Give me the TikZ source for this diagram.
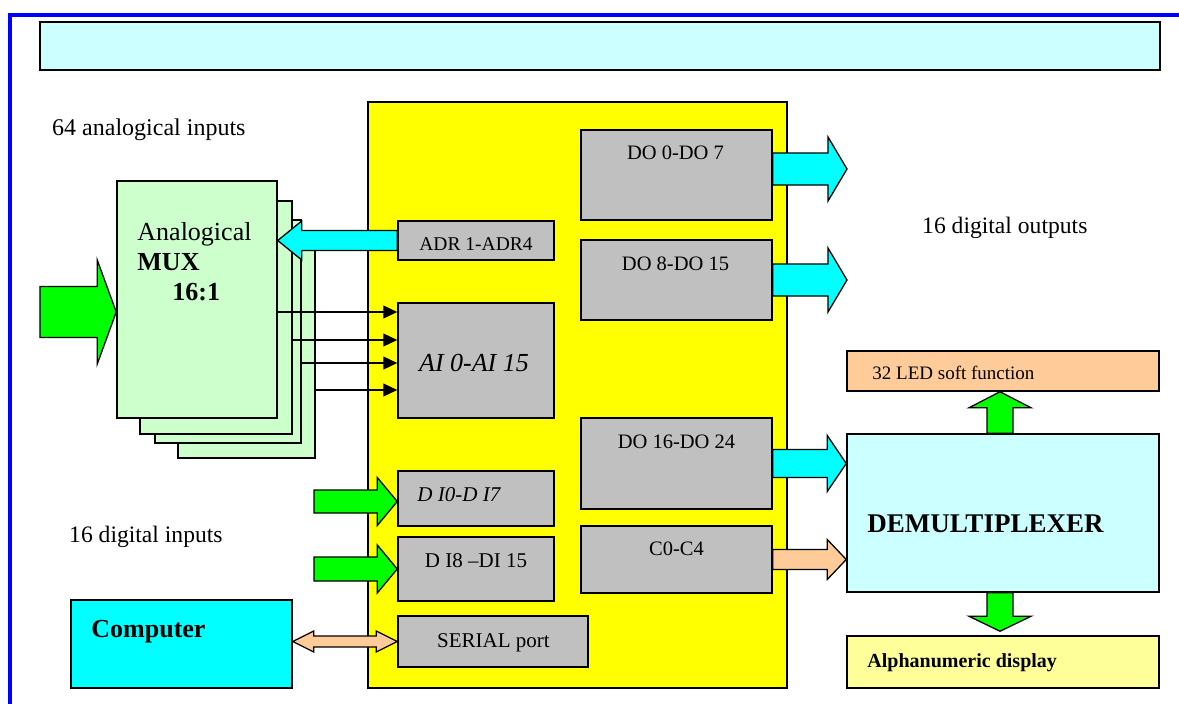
\documentclass[tikz,border=0pt]{standalone}
\usepackage{fontspec}
\setmainfont{Liberation Serif}
\usepackage{tikz}
\usetikzlibrary{
  arrows.meta,
  positioning,
  calc
}
\definecolor{FrameBlue}{HTML}{0000FF}
\definecolor{PaleCyan}{HTML}{CCFFFF}
\definecolor{BoardYellow}{HTML}{FFFF00}
\definecolor{ChipGray}{HTML}{C0C0C0}
\definecolor{MuxGreen}{HTML}{CCFFCC}
\definecolor{BusGreen}{HTML}{00FF00}
\definecolor{BusCyan}{HTML}{00FFFF}
\definecolor{BusPeach}{HTML}{FFCC99}
\definecolor{PaleYellow}{HTML}{FFFF99}

% block arrow: style, foot, tip, half shaft, half head, head length
\newcommand{\fatarrow}[6]{%
  \coordinate (fatbase) at ($(#3)!#6!(#2)$);
  \draw[#1] ($(#2)!#4!90:(#3)$) -- ($(fatbase)!#4!90:(#3)$)
    -- ($(fatbase)!#5!90:(#3)$) -- (#3) -- ($(fatbase)!#5!-90:(#3)$)
    -- ($(fatbase)!#4!-90:(#3)$) -- ($(#2)!#4!-90:(#3)$) -- cycle;}
% block arrow with a head at both ends
\newcommand{\fatdouble}[6]{%
  \coordinate (fatbasea) at ($(#2)!#6!(#3)$);
  \coordinate (fatbaseb) at ($(#3)!#6!(#2)$);
  \draw[#1] (#2) -- ($(fatbasea)!#5!90:(#3)$) -- ($(fatbasea)!#4!90:(#3)$)
    -- ($(fatbaseb)!#4!90:(#3)$) -- ($(fatbaseb)!#5!90:(#3)$) -- (#3)
    -- ($(fatbaseb)!#5!-90:(#3)$) -- ($(fatbaseb)!#4!-90:(#3)$)
    -- ($(fatbasea)!#4!-90:(#3)$) -- ($(fatbasea)!#5!-90:(#3)$) -- cycle;}

\begin{document}
\begin{tikzpicture}[
  x=1pt, y=-1pt,
  frame/.style={draw=FrameBlue, line width=4pt},
  box/.style={draw=black, line width=1.5pt, inner sep=0pt},
  chip/.style={box, fill=ChipGray},
  muxcard/.style={box, fill=MuxGreen},
  txt/.style={inner sep=0pt, text=black},
  big/.style={font=\fontsize{26}{30}\selectfont},
  mid/.style={font=\fontsize{21}{24}\selectfont},
  small/.style={font=\fontsize{20.5}{23}\selectfont},
  fat/.style={draw=black, line width=1.3pt, line join=miter},
  sig/.style={-{Triangle[length=14pt,width=13pt]}, line width=1.2pt}
]
\useasboundingbox (0,0) rectangle (1179,704);

\draw[frame] (10,704) -- (10,15) -- (1179,15);
\node[box, fill=PaleCyan, minimum width=1120pt, minimum height=48pt] (title) at (600,46) {};

\node[box, fill=BoardYellow, minimum width=419pt, minimum height=586pt] (board) at (577.5,395) {};

% multiplexer cards
\node[muxcard, minimum width=137pt, minimum height=213pt] (mux4) at (246.5,351.5) {};
\node[muxcard, minimum width=146pt, minimum height=223pt] (mux3) at (228,331.5) {};
\node[muxcard, minimum width=152pt, minimum height=233pt] (mux2) at (216,317.5) {};
\node[muxcard, minimum width=160pt, minimum height=237pt,
  label={[txt, big, align=left, anchor=north west, xshift=21pt, yshift=-42pt]north west:{Analogical\\\textbf{MUX}\\\hspace*{35pt}\textbf{16:1}}}]
  (mux) at (197,299.5) {};

% board blocks
\node[chip, minimum width=156pt, minimum height=39pt,
  label={[txt, font=\fontsize{19.5}{22}\selectfont, anchor=base, yshift=-30pt]north:ADR 1-ADR4}]
  (adr) at (476,240.5) {};
\node[chip, minimum width=156pt, minimum height=115pt,
  label={[txt, big, anchor=base, xshift=-2pt, yshift=-69pt]north:\textit{AI 0-AI 15}}]
  (ai) at (476,360.5) {};
\node[chip, minimum width=156pt, minimum height=55pt,
  label={[txt, mid, anchor=base west, xshift=20pt, yshift=-2.5pt]west:\textit{D I0-D I7}}]
  (dia) at (476,498.5) {};
\node[chip, minimum width=156pt, minimum height=64pt,
  label={[txt, mid, anchor=base, yshift=-31pt]north:D I8 –DI 15}]
  (dib) at (476,569) {};
\node[chip, minimum width=190pt, minimum height=51pt,
  label={[txt, mid, anchor=base, xshift=0.5pt, yshift=-32pt]north:SERIAL port}]
  (serial) at (493,641.5) {};
\node[chip, minimum width=191pt, minimum height=90pt,
  label={[txt, small, anchor=base, xshift=-1pt, yshift=-30pt]north:DO 0-DO 7}]
  (doa) at (676.5,175) {};
\node[chip, minimum width=191pt, minimum height=80pt,
  label={[txt, small, anchor=base, xshift=-1pt, yshift=-31pt]north:DO 8-DO 15}]
  (dob) at (676.5,280) {};
\node[chip, minimum width=191pt, minimum height=91pt,
  label={[txt, small, anchor=base, yshift=-31pt]north:DO 16-DO 24}]
  (doc) at (676.5,463.5) {};
\node[chip, minimum width=191pt, minimum height=67pt,
  label={[txt, small, anchor=base, yshift=-30pt]north:C0-C4}]
  (ctl) at (676.5,559.5) {};

% outside blocks
\node[box, fill=BusCyan, minimum width=221pt, minimum height=88pt,
  label={[txt, big, anchor=base west, xshift=21pt, yshift=7pt]west:\textbf{Computer}}]
  (pc) at (181.5,644) {};
\node[box, fill=PaleCyan, minimum width=312pt, minimum height=158pt,
  label={[txt, font=\fontsize{27}{30}\selectfont, anchor=base west, xshift=21pt, yshift=-19pt]west:\textbf{DEMULTIPLEXER}}]
  (demux) at (1003,513) {};
\node[box, fill=BusPeach, minimum width=312pt, minimum height=40pt,
  label={[txt, font=\fontsize{19}{22}\selectfont, anchor=base west, xshift=26pt, yshift=-8pt]west:32 LED soft function}]
  (led) at (1003,371) {};
\node[box, fill=PaleYellow, minimum width=312pt, minimum height=52pt,
  label={[txt, font=\fontsize{20}{23}\selectfont, anchor=base west, xshift=21pt, yshift=-5pt]west:\textbf{Alphanumeric display}}]
  (disp) at (1003,662) {};

\node[txt, font=\fontsize{24}{28}\selectfont, anchor=base west] (anain) at (52,135) {64 analogical inputs};
\node[txt, font=\fontsize{23.6}{26}\selectfont, anchor=base west] (digin) at (69,542) {16 digital inputs};
\node[txt, font=\fontsize{23.6}{26}\selectfont, anchor=base west] (digout) at (922,233) {16 digital outputs};

% analog channels
\foreach \b/\dy [count=\i] in {mux/-48.5, mux2/-20.5, mux3/2.5, mux4/29.5} {
  \coordinate (ain\i) at ($(ai.west)+(0,\dy)$);
  \draw[sig] (\b.east |- ain\i) -- (ain\i);
}

% buses
\coordinate (anin) at (40,312);
\coordinate (anintip) at (mux.west |- anin);
\fatarrow{fat, fill=BusGreen}{anin}{anintip}{25.5pt}{52pt}{19pt}

\coordinate (adrtip) at (mux.east |- adr.west);
\fatarrow{fat, fill=BusCyan}{adr.west}{adrtip}{10pt}{19.5pt}{24pt}

\coordinate (dina) at (314,501.5);
\coordinate (dinatip) at (dia.west |- dina);
\fatarrow{fat, fill=BusGreen}{dina}{dinatip}{11.5pt}{24pt}{20pt}
\coordinate (dinb) at (314,569);
\coordinate (dinbtip) at (dib.west |- dinb);
\fatarrow{fat, fill=BusGreen}{dinb}{dinbtip}{12pt}{24pt}{20pt}

\coordinate (pcport) at (pc.east |- serial.west);
\fatdouble{fat, fill=BusPeach}{pcport}{serial.west}{5.5pt}{10.5pt}{21pt}

\coordinate (outa) at (847,169);
\coordinate (outafoot) at (doa.east |- outa);
\fatarrow{fat, fill=BusCyan}{outafoot}{outa}{16pt}{32pt}{19pt}
\coordinate (outb) at (847,280);
\fatarrow{fat, fill=BusCyan}{dob.east}{outb}{16pt}{32pt}{19pt}

\coordinate (demc) at (demux.west |- doc.east);
\fatarrow{fat, fill=BusCyan}{doc.east}{demc}{14pt}{28pt}{19pt}
\coordinate (demd) at (demux.west |- ctl.east);
\fatarrow{fat, fill=BusPeach}{ctl.east}{demd}{10pt}{20pt}{19pt}

\coordinate (upfoot) at ($(demux.north)+(-3,0)$);
\coordinate (uptip) at ($(led.south)+(-3,0)$);
\fatarrow{fat, fill=BusGreen}{upfoot}{uptip}{13pt}{31pt}{16pt}
\coordinate (dnfoot) at ($(demux.south)+(-3,0)$);
\coordinate (dntip) at ($(disp.north)+(-3,-4)$);
\fatarrow{fat, fill=BusGreen}{dnfoot}{dntip}{13pt}{31pt}{15pt}
\end{tikzpicture}
\end{document}
